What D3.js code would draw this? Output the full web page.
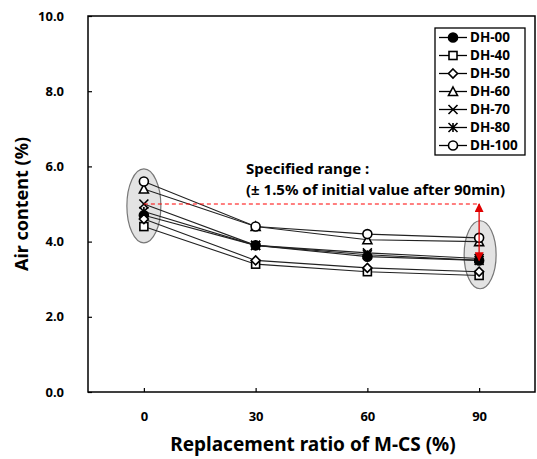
<!DOCTYPE html>
<html><head><meta charset="utf-8">
<script src="https://cdn.jsdelivr.net/npm/d3@7/dist/d3.min.js"></script>
<style>body{margin:0;background:#fff}svg{display:block}text{font-family:"Noto Sans",sans-serif;font-weight:bold;fill:#000}</style>
</head><body><svg id="c" width="537" height="459"></svg>
<script>
const categories = [0, 30, 60, 90];
const seriesNames = ["DH-00","DH-40","DH-50","DH-60","DH-70","DH-80","DH-100"];
const markers = ["dot","square","diamond","triangle","x","star","circle"];
const dh00  = [4.7, 3.9, 3.6, 3.5];
const dh40  = [4.4, 3.4, 3.2, 3.1];
const dh50  = [4.6, 3.5, 3.3, 3.2];
const dh60  = [5.4, 4.4, 4.05, 4.0];
const dh70  = [5.0, 3.9, 3.7, 3.55];
const dh80  = [4.8, 3.9, 3.65, 3.5];
const dh100 = [5.6, 4.4, 4.2, 4.1];
const yTicks = [0, 2, 4, 6, 8, 10];
const initialValue = 5.0, rangeLow = 3.5;
const annoLines = ["Specified range :", "(± 1.5% of initial value after 90min)"];

const series = [dh00, dh40, dh50, dh60, dh70, dh80, dh100];
const svg = d3.select("#c");
const L = 88, R = 535, T = 16, B = 392;
const x = d3.scaleLinear().domain([-15, 105]).range([L, R]);
const y = d3.scaleLinear().domain([0, 10]).range([B, T]);

// ellipses
svg.append("ellipse").attr("cx", x(0)).attr("cy", y(4.95)).attr("rx", 17).attr("ry", 37)
  .attr("fill", "#e3e3e3").attr("stroke", "#777").attr("stroke-width", 1.2);
svg.append("ellipse").attr("cx", x(90)+1).attr("cy", y(3.65)).attr("rx", 16).attr("ry", 34)
  .attr("fill", "#e3e3e3").attr("stroke", "#777").attr("stroke-width", 1.2);

// frame
svg.append("rect").attr("x", L).attr("y", T).attr("width", R-L).attr("height", B-T)
  .attr("fill", "none").attr("stroke", "#000").attr("stroke-width", 1.5);

// axes
const ya = svg.append("g").attr("transform", `translate(${L},0)`)
  .call(d3.axisLeft(y).tickValues(yTicks).tickSize(-4).tickPadding(24).tickFormat(d3.format(".1f")));
const xa = svg.append("g").attr("transform", `translate(0,${B})`)
  .call(d3.axisBottom(x).tickValues(categories).tickSize(-4).tickPadding(20));
[ya, xa].forEach(g => {
  g.select(".domain").remove();
  g.selectAll("line").attr("stroke", "#000").attr("stroke-width", 1.2);
  g.selectAll("text").attr("font-size", 13).attr("font-family", '"Noto Sans",sans-serif').attr("font-weight", "bold");
});

svg.append("text").attr("x", 313).attr("y", 451).attr("text-anchor", "middle").attr("font-size", 19)
  .text("Replacement ratio of M-CS (%)");
svg.append("text").attr("transform", `translate(28,${(T+B)/2}) rotate(-90)`).attr("text-anchor", "middle").attr("font-size", 18)
  .text("Air content (%)");

// lines
const line = d3.line().x((d, i) => x(categories[i])).y(d => y(d));
series.forEach(s => {
  svg.append("path").attr("d", line(s)).attr("fill", "none").attr("stroke", "#222").attr("stroke-width", 1.1);
});

function marker(g, type, cx, cy) {
  const s = 4.5;
  const k = g.append("g").attr("transform", `translate(${cx},${cy})`);
  const st = {stroke: "#000", "stroke-width": 1.6};
  const ap = (el, o) => { Object.entries(o).forEach(([a, v]) => el.attr(a, v)); return el; };
  if (type === "dot") ap(k.append("circle").attr("r", s).attr("fill", "#000"), st);
  else if (type === "circle") ap(k.append("circle").attr("r", s).attr("fill", "#fff"), st);
  else if (type === "square") ap(k.append("rect").attr("x", -s+0.5).attr("y", -s+0.5).attr("width", 2*s-1).attr("height", 2*s-1).attr("fill", "#fff"), st);
  else if (type === "diamond") ap(k.append("path").attr("d", `M0,${-s}L${s},0L0,${s}L${-s},0Z`).attr("fill", "#fff"), st);
  else if (type === "triangle") ap(k.append("path").attr("d", `M0,${-s}L${s},${s-0.5}L${-s},${s-0.5}Z`).attr("fill", "#fff"), st);
  else if (type === "x") ap(k.append("path").attr("d", `M${-s},${-s}L${s},${s}M${s},${-s}L${-s},${s}`).attr("fill", "none"), st);
  else if (type === "star") ap(k.append("path").attr("d", `M${-s},${-s}L${s},${s}M${s},${-s}L${-s},${s}M0,${-s}L0,${s}`).attr("fill", "none"), st);
}
series.forEach((s, j) => {
  s.forEach((v, i) => marker(svg, markers[j], x(categories[i]), y(v)));
});

// red dashed line and arrow
const defs = svg.append("defs");
defs.append("marker").attr("id", "ah").attr("viewBox", "0 0 10 10").attr("refX", 9).attr("refY", 5)
  .attr("markerWidth", 7).attr("markerHeight", 7).attr("orient", "auto-start-reverse")
  .append("path").attr("d", "M0,0L10,5L0,10Z").attr("fill", "#e00000");
svg.append("line").attr("x1", x(0)).attr("x2", x(90)).attr("y1", y(initialValue)).attr("y2", y(initialValue))
  .attr("stroke", "#ff0000").attr("stroke-width", 1.1).attr("stroke-dasharray", "4,3");
svg.append("line").attr("x1", x(90)).attr("x2", x(90)).attr("y1", y(initialValue)).attr("y2", y(rangeLow))
  .attr("stroke", "#e00000").attr("stroke-width", 1.3)
  .attr("marker-start", "url(#ah)").attr("marker-end", "url(#ah)");

annoLines.forEach((t, i) => {
  svg.append("text").attr("x", 246).attr("y", 174 + i*21).attr("font-size", 15).text(t);
});

// legend
const lg = svg.append("g");
lg.append("rect").attr("x", 435).attr("y", 28).attr("width", 90).attr("height", 127)
  .attr("fill", "#fff").attr("stroke", "#000").attr("stroke-width", 1.3);
seriesNames.forEach((n, j) => {
  const yy = 37.5 + j*18;
  lg.append("line").attr("x1", 439).attr("x2", 467).attr("y1", yy).attr("y2", yy).attr("stroke", "#000").attr("stroke-width", 1.3);
  marker(lg, markers[j], 453, yy);
  lg.append("text").attr("x", 470).attr("y", yy + 4.5).attr("font-size", 13.5).text(n);
});
</script></body></html>
